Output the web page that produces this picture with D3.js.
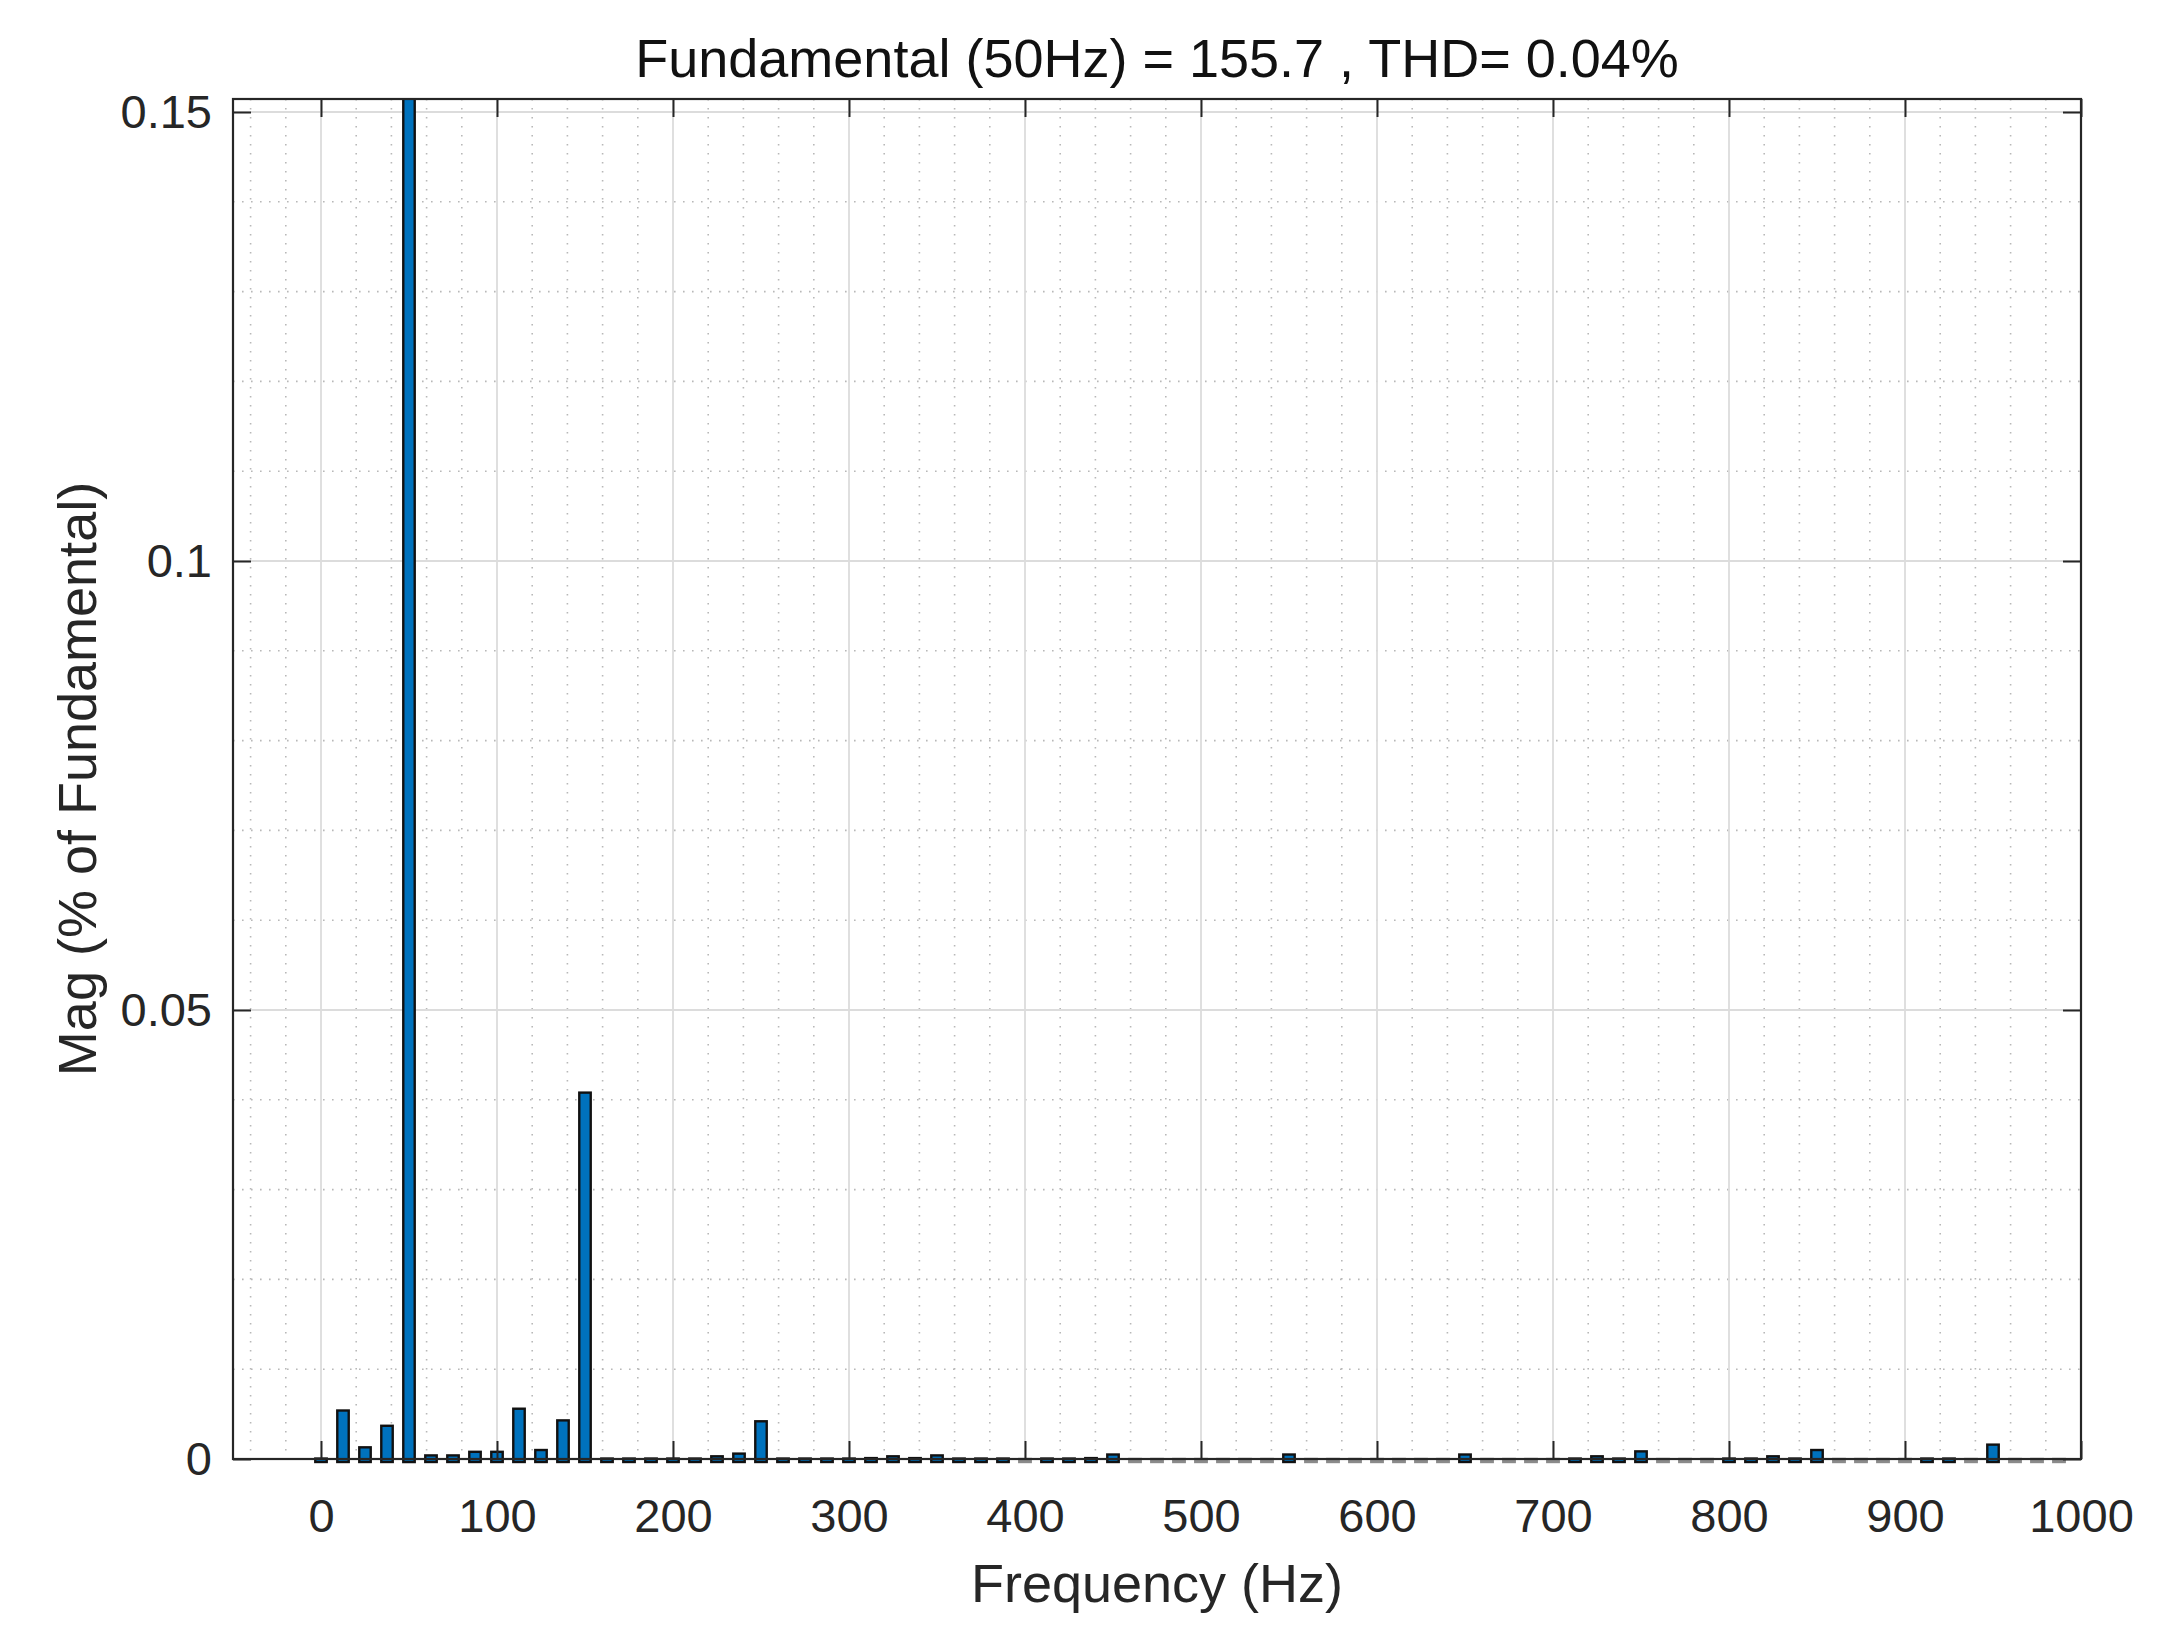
<!DOCTYPE html>
<html>
<head>
<meta charset="utf-8">
<script src="https://cdn.jsdelivr.net/npm/d3@7"></script>
<style>
  body { margin: 0; background: #fff; }
  text { font-family: "Liberation Sans", Arial, sans-serif; fill: #262626; }
</style>
</head>
<body>
<div id="chart"></div>
<script>
// FFT bins (Hz) and magnitude (% of fundamental)
var freqs = [0, 12.5, 25, 37.5, 50, 62.5, 75, 87.5, 100, 112.5, 125, 137.5, 150, 162.5, 175, 187.5,
  200, 212.5, 225, 237.5, 250, 262.5, 275, 287.5, 300, 312.5, 325, 337.5, 350, 362.5, 375, 387.5,
  400, 412.5, 425, 437.5, 450, 462.5, 475, 487.5, 500, 512.5, 525, 537.5, 550, 562.5, 575, 587.5,
  600, 612.5, 625, 637.5, 650, 662.5, 675, 687.5, 700, 712.5, 725, 737.5, 750, 762.5, 775, 787.5,
  800, 812.5, 825, 837.5, 850, 862.5, 875, 887.5, 900, 912.5, 925, 937.5, 950, 962.5, 975, 987.5];

var mags = [0.00005, 0.0054, 0.0013, 0.0037, 100, 0.0004, 0.0004, 0.0008, 0.0008, 0.0056, 0.001, 0.0043, 0.0408, 0.00005, 0.00005, 0.00005,
  0.00005, 0.00005, 0.0003, 0.0006, 0.0042, 0.00005, 0.00005, 0.00005, 0.00005, 0.0001, 0.0003, 0.0001, 0.0004, 0.00005, 0.00005, 0.00005,
  0, 0.00005, 0.00005, 0.0001, 0.0005, 0, 0, 0, 0, 0, 0, 0, 0.0005, 0, 0, 0,
  0, 0, 0, 0, 0.0005, 0, 0, 0, 0, 0.00005, 0.0003, 0.00005, 0.00085, 0, 0, 0,
  0.00005, 0.00005, 0.0003, 0.00005, 0.001, 0, 0, 0, 0, 0.00005, 0.00005, 0, 0.0016, 0, 0, 0];

var xTicks = [0, 100, 200, 300, 400, 500, 600, 700, 800, 900, 1000];
var xTickLabels = ["0", "100", "200", "300", "400", "500", "600", "700", "800", "900", "1000"];
var yTicks = [0, 0.05, 0.1, 0.15];
var yTickLabels = ["0", "0.05", "0.1", "0.15"];

var titleText = "Fundamental (50Hz) = 155.7 , THD= 0.04%";
var xTitle = "Frequency (Hz)";
var yTitle = "Mag (% of Fundamental)";

var width = 2174, height = 1640;
var plotL = 233, plotR = 2081, plotT = 99, plotB = 1459;

var svg = d3.select("#chart").append("svg")
    .attr("width", width)
    .attr("height", height);

svg.append("rect").attr("width", width).attr("height", height).attr("fill", "#fff");

var x = d3.scaleLinear().domain([-50, 1000]).range([plotL, plotR]);
var y = d3.scaleLinear().domain([0, 0.15145]).range([plotB, plotT]);

// minor grid (dotted)
var xMinor = d3.range(-40, 1000, 20).filter(function(d) { return d % 100 !== 0; });
var yMinor = d3.range(1, 16).filter(function(d) { return d % 5 !== 0; }).map(function(d) { return d / 100; });

var grid = svg.append("g");
grid.selectAll(".xminor").data(xMinor).enter().append("line")
    .attr("x1", function(d) { return x(d); }).attr("x2", function(d) { return x(d); })
    .attr("y1", plotT).attr("y2", plotB)
    .attr("stroke", "#b8b8b8").attr("stroke-width", 1.6).attr("stroke-dasharray", "1.6,7.4");
grid.selectAll(".yminor").data(yMinor).enter().append("line")
    .attr("x1", plotL).attr("x2", plotR)
    .attr("y1", function(d) { return y(d); }).attr("y2", function(d) { return y(d); })
    .attr("stroke", "#b8b8b8").attr("stroke-width", 1.6).attr("stroke-dasharray", "1.6,7.4");

// major grid
grid.selectAll(".xmajor").data(xTicks).enter().append("line")
    .attr("x1", function(d) { return x(d); }).attr("x2", function(d) { return x(d); })
    .attr("y1", plotT).attr("y2", plotB)
    .attr("stroke", "#dcdcdc").attr("stroke-width", 1.8);
grid.selectAll(".ymajor").data(yTicks).enter().append("line")
    .attr("x1", plotL).attr("x2", plotR)
    .attr("y1", function(d) { return y(d); }).attr("y2", function(d) { return y(d); })
    .attr("stroke", "#dcdcdc").attr("stroke-width", 1.8);

// bars, clipped at the top of the axes (fundamental is off scale)
svg.append("clipPath").attr("id", "clip")
  .append("rect").attr("x", plotL).attr("y", plotT).attr("width", plotR - plotL).attr("height", plotB - plotT + 8);

var barW = (x(12.5) - x(0)) * 0.52;
svg.append("g").attr("clip-path", "url(#clip)")
  .selectAll("rect")
  .data(freqs)
  .enter().append("rect")
    .attr("x", function(d) { return x(d) - barW / 2; })
    .attr("y", function(d, i) { return y(mags[i]); })
    .attr("width", barW)
    .attr("height", function(d, i) { return y(0) - y(mags[i]) + 3; })
    .attr("fill", function(d, i) { return mags[i] > 0 ? "#0072BD" : "#8a8a8a"; })
    .attr("stroke", function(d, i) { return mags[i] > 0 ? "#111" : "#8a8a8a"; })
    .attr("stroke-width", 2.4);

// axes with inward ticks
var tick = 18;
var gx = svg.append("g").attr("transform", "translate(0," + plotB + ")")
    .call(d3.axisBottom(x).tickValues(xTicks).tickSizeInner(-tick).tickSizeOuter(0).tickPadding(40)
      .tickFormat(function(d, i) { return xTickLabels[i]; }));
var gy = svg.append("g").attr("transform", "translate(" + plotL + ",0)")
    .call(d3.axisLeft(y).tickValues(yTicks).tickSizeInner(-tick).tickSizeOuter(0).tickPadding(21)
      .tickFormat(function(d, i) { return yTickLabels[i]; }));
var gt = svg.append("g").attr("transform", "translate(0," + plotT + ")")
    .call(d3.axisTop(x).tickValues(xTicks).tickSizeInner(-tick).tickSizeOuter(0).tickFormat(""));
var gr = svg.append("g").attr("transform", "translate(" + plotR + ",0)")
    .call(d3.axisRight(y).tickValues(yTicks).tickSizeInner(-tick).tickSizeOuter(0).tickFormat(""));

[gx, gy, gt, gr].forEach(function(g) {
  g.select(".domain").remove();
  g.selectAll(".tick line").attr("stroke", "#262626").attr("stroke-width", 2);
  g.selectAll(".tick text").attr("font-size", 47).attr("fill", "#262626")
    .style("font-family", "'Liberation Sans', Arial, sans-serif");
});

// axes box
svg.append("rect")
    .attr("x", plotL).attr("y", plotT)
    .attr("width", plotR - plotL).attr("height", plotB - plotT)
    .attr("fill", "none").attr("stroke", "#262626").attr("stroke-width", 2.2);

// titles
svg.append("text")
    .attr("x", (plotL + plotR) / 2).attr("y", 77)
    .attr("text-anchor", "middle").attr("font-size", 54).style("fill", "#111")
    .text(titleText);

svg.append("text")
    .attr("x", (plotL + plotR) / 2).attr("y", 1602)
    .attr("text-anchor", "middle").attr("font-size", 54)
    .text(xTitle);

svg.append("text")
    .attr("transform", "translate(96," + (plotT + plotB) / 2 + ") rotate(-90)")
    .attr("text-anchor", "middle").attr("font-size", 54)
    .text(yTitle);
</script>
</body>
</html>
